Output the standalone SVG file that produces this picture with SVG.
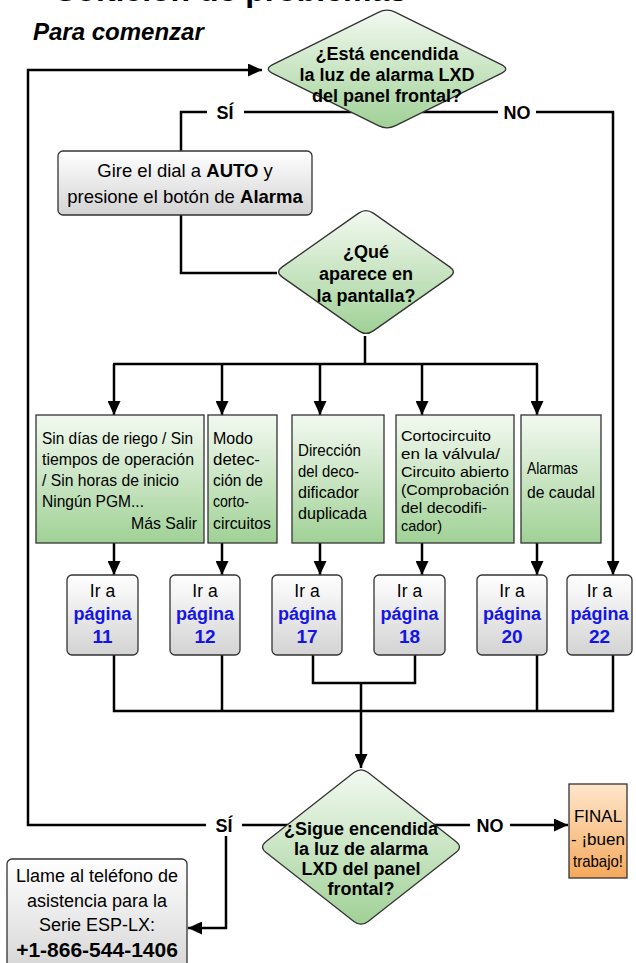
<svg xmlns="http://www.w3.org/2000/svg" width="636" height="963" viewBox="0 0 636 963">
<defs>
<linearGradient id="gGreen" x1="0" y1="0" x2="0" y2="1"><stop offset="0" stop-color="#f3f9f1"/><stop offset="1" stop-color="#a0d196"/></linearGradient>
<linearGradient id="gGray" x1="0" y1="0" x2="0" y2="1"><stop offset="0" stop-color="#ffffff"/><stop offset="1" stop-color="#d3d3d3"/></linearGradient>
<linearGradient id="gOrange" x1="0" y1="0" x2="0" y2="1"><stop offset="0" stop-color="#fee6cc"/><stop offset="1" stop-color="#f5a95c"/></linearGradient>
<marker id="arr" markerUnits="userSpaceOnUse" markerWidth="15" markerHeight="13" refX="14" refY="6.5" orient="auto"><path d="M0,0 L14,6.5 L0,13 Z" fill="#000"/></marker>
<style>
.ln{fill:none;stroke:#000;stroke-width:2.5}
.ar{fill:none;stroke:#000;stroke-width:2.5;marker-end:url(#arr)}
.dia{fill:url(#gGreen);stroke:#333;stroke-width:1.3}
.gbox{fill:url(#gGreen);stroke:#333;stroke-width:1.3}
.gray{fill:url(#gGray);stroke:#333;stroke-width:1.3}
.org{fill:url(#gOrange);stroke:#333;stroke-width:1.3}
text{font-family:"Liberation Sans",Arial,sans-serif;fill:#000}
.b{font-weight:bold}
.dt{font-weight:bold;font-size:18px;text-anchor:middle}
.lbl{font-weight:bold;font-size:18px;text-anchor:middle}
.bt{font-size:17px}
.bs{font-size:15.5px}
.pg{text-anchor:middle}
.ir{font-size:17.5px}
.blue{fill:#1414e6;font-weight:bold}
</style>
</defs>
<text x="55" y="0.5" style="font-weight:bold;font-size:32px">Solución de problemas</text>
<text x="33" y="40" style="font-weight:bold;font-style:italic;font-size:24px">Para comenzar</text>

<g id="connectors">
<path class="ar" d="M206,825 H28 V70 H262"/>
<path class="ln" d="M242,825 H300"/>
<path class="ar" d="M226,836 V928 H188"/>
<path class="ln" d="M430,825 H470"/>
<path class="ar" d="M510,825 H568"/>
<path class="ln" d="M207,112 H181 V151"/>
<path class="ln" d="M244,112 H352"/>
<path class="ln" d="M422,112 H498"/>
<path class="ar" d="M536,112 H613 V575"/>
<path class="ln" d="M181,215 V273 H277"/>
<path class="ln" d="M365,336 V364"/>
<path class="ln" d="M113,364 H538"/>
<path class="ar" d="M114,364 V415"/>
<path class="ar" d="M222,364 V415"/>
<path class="ar" d="M320,364 V415"/>
<path class="ar" d="M422,364 V415"/>
<path class="ar" d="M537,364 V415"/>
<path class="ar" d="M114,543 V575"/>
<path class="ar" d="M222,543 V575"/>
<path class="ar" d="M320,543 V575"/>
<path class="ar" d="M422,543 V575"/>
<path class="ar" d="M537,543 V575"/>
<path class="ln" d="M114,655 V711 H613 V655"/>
<path class="ln" d="M222,655 V711"/>
<path class="ln" d="M537,655 V711"/>
<path class="ln" d="M313,655 V683 H415 V655"/>
<path class="ar" d="M361,683 V768"/>
</g>

<g id="q1">
<path class="dia" d="M395.6,12.3 L501.4,64.7 Q510,69 501.4,73.3 L395.6,125.7 Q387,130 378.4,125.7 L272.6,73.3 Q264,69 272.6,64.7 L378.4,12.3 Q387,8 395.6,12.3 Z"/>
<text class="dt" x="387" y="60">¿Está encendida</text>
<text class="dt" x="387" y="81">la luz de alarma LXD</text>
<text class="dt" x="387" y="102">del panel frontal?</text>
</g>
<g id="lbl-si1"><text class="lbl" x="225" y="119">SÍ</text></g>
<g id="lbl-no1"><text class="lbl" x="517" y="119">NO</text></g>

<g id="gire">
<rect class="gray" x="58" y="151" width="254" height="64" rx="5"/>
<text x="185" y="177" style="font-size:18.5px;text-anchor:middle">Gire el dial a <tspan class="b">AUTO</tspan> y</text>
<text x="185" y="203" style="font-size:18.5px;text-anchor:middle">presione el botón de <tspan class="b">Alarma</tspan></text>
</g>

<g id="q2">
<path class="dia" d="M373.3,213.1 L449.7,266.9 Q457,272 449.7,277.1 L373.3,330.9 Q366,336 358.7,330.9 L282.3,277.1 Q275,272 282.3,266.9 L358.7,213.1 Q366,208 373.3,213.1 Z"/>
<text class="dt" x="366" y="258">¿Qué</text>
<text class="dt" x="366" y="280">aparece en</text>
<text class="dt" x="366" y="302">la pantalla?</text>
</g>

<g id="c1">
<rect class="gbox" x="36" y="415" width="168" height="128"/>
<text class="bt" x="42" y="444" textLength="151" lengthAdjust="spacingAndGlyphs">Sin días de riego / Sin</text>
<text class="bt" x="42" y="465" textLength="152" lengthAdjust="spacingAndGlyphs">tiempos de operación</text>
<text class="bt" x="42" y="486" textLength="137" lengthAdjust="spacingAndGlyphs">/ Sin horas de inicio</text>
<text class="bt" x="42" y="507" textLength="102" lengthAdjust="spacingAndGlyphs">Ningún PGM...</text>
<text class="bt" x="131" y="529" textLength="66" lengthAdjust="spacingAndGlyphs">Más  Salir</text>
</g>
<g id="c2">
<rect class="gbox" x="208" y="415" width="69" height="128"/>
<text class="bt" x="213" y="444" textLength="40" lengthAdjust="spacingAndGlyphs">Modo</text>
<text class="bt" x="213" y="465" textLength="47" lengthAdjust="spacingAndGlyphs">detec-</text>
<text class="bt" x="213" y="486" textLength="50" lengthAdjust="spacingAndGlyphs">ción de</text>
<text class="bt" x="213" y="507" textLength="36" lengthAdjust="spacingAndGlyphs">corto-</text>
<text class="bt" x="213" y="529" textLength="58" lengthAdjust="spacingAndGlyphs">circuitos</text>
</g>
<g id="c3">
<rect class="gbox" x="292" y="415" width="92" height="128"/>
<text class="bt" x="298" y="456" textLength="63" lengthAdjust="spacingAndGlyphs">Dirección</text>
<text class="bt" x="298" y="477" textLength="61" lengthAdjust="spacingAndGlyphs">del deco-</text>
<text class="bt" x="298" y="498" textLength="61" lengthAdjust="spacingAndGlyphs">dificador</text>
<text class="bt" x="298" y="519" textLength="69" lengthAdjust="spacingAndGlyphs">duplicada</text>
</g>
<g id="c4">
<rect class="gbox" x="396" y="415" width="118" height="128"/>
<text class="bs" x="401" y="441" textLength="90" lengthAdjust="spacingAndGlyphs">Cortocircuito</text>
<text class="bs" x="401" y="459" textLength="99" lengthAdjust="spacingAndGlyphs">en la válvula/</text>
<text class="bs" x="401" y="477" textLength="108" lengthAdjust="spacingAndGlyphs">Circuito abierto</text>
<text class="bs" x="401" y="495" textLength="108" lengthAdjust="spacingAndGlyphs">(Comprobación</text>
<text class="bs" x="401" y="513" textLength="86" lengthAdjust="spacingAndGlyphs">del decodifi-</text>
<text class="bs" x="401" y="531" textLength="41" lengthAdjust="spacingAndGlyphs">cador)</text>
</g>
<g id="c5">
<rect class="gbox" x="521" y="415" width="80" height="128"/>
<text class="bt" x="527" y="474" textLength="51" lengthAdjust="spacingAndGlyphs">Alarmas</text>
<text class="bt" x="527" y="498" textLength="68" lengthAdjust="spacingAndGlyphs">de caudal</text>
</g>

<g id="p11">
<rect class="gray" x="67" y="575" width="71" height="80" rx="5"/>
<text class="pg ir" x="102.5" y="597">Ir a</text>
<text class="pg blue" x="102.5" y="620" style="font-size:18px">página</text>
<text class="pg blue" x="102.5" y="643" style="font-size:19px">11</text>
</g>
<g id="p12">
<rect class="gray" x="170" y="575" width="70" height="80" rx="5"/>
<text class="pg ir" x="205" y="597">Ir a</text>
<text class="pg blue" x="205" y="620" style="font-size:18px">página</text>
<text class="pg blue" x="205" y="643" style="font-size:19px">12</text>
</g>
<g id="p17">
<rect class="gray" x="272" y="575" width="70" height="80" rx="5"/>
<text class="pg ir" x="307" y="597">Ir a</text>
<text class="pg blue" x="307" y="620" style="font-size:18px">página</text>
<text class="pg blue" x="307" y="643" style="font-size:19px">17</text>
</g>
<g id="p18">
<rect class="gray" x="374" y="575" width="71" height="80" rx="5"/>
<text class="pg ir" x="409.5" y="597">Ir a</text>
<text class="pg blue" x="409.5" y="620" style="font-size:18px">página</text>
<text class="pg blue" x="409.5" y="643" style="font-size:19px">18</text>
</g>
<g id="p20">
<rect class="gray" x="477" y="575" width="70" height="80" rx="5"/>
<text class="pg ir" x="512" y="597">Ir a</text>
<text class="pg blue" x="512" y="620" style="font-size:18px">página</text>
<text class="pg blue" x="512" y="643" style="font-size:19px">20</text>
</g>
<g id="p22">
<rect class="gray" x="567" y="575" width="65" height="80" rx="5"/>
<text class="pg ir" x="599.5" y="597">Ir a</text>
<text class="pg blue" x="599.5" y="620" style="font-size:18px">página</text>
<text class="pg blue" x="599.5" y="643" style="font-size:19px">22</text>
</g>

<g id="q3">
<path class="dia" d="M368.1,772.6 L455.9,841.4 Q463,847 455.9,852.6 L368.1,921.4 Q361,927 353.9,921.4 L266.1,852.6 Q259,847 266.1,841.4 L353.9,772.6 Q361,767 368.1,772.6 Z"/>
<text class="dt" x="361" y="835">¿Sigue encendida</text>
<text class="dt" x="361" y="855">la luz de alarma</text>
<text class="dt" x="361" y="875">LXD del panel</text>
<text class="dt" x="361" y="895">frontal?</text>
</g>
<g id="lbl-si2"><text class="lbl" x="224" y="832">SÍ</text></g>
<g id="lbl-no2"><text class="lbl" x="490" y="832">NO</text></g>

<g id="final">
<rect class="org" x="569" y="784" width="58" height="94"/>
<text x="598" y="822" style="font-size:17px;text-anchor:middle">FINAL</text>
<text x="598" y="845" style="font-size:17px;text-anchor:middle">- ¡buen</text>
<text x="598" y="867" style="font-size:17px;text-anchor:middle" textLength="50" lengthAdjust="spacingAndGlyphs">trabajo!</text>
</g>

<g id="phone">
<rect class="gray" x="7" y="859" width="180" height="120" rx="5"/>
<text x="97" y="882" style="font-size:18px;text-anchor:middle">Llame al teléfono de</text>
<text x="97" y="907" style="font-size:18px;text-anchor:middle">asistencia para la</text>
<text x="97" y="931" style="font-size:18px;text-anchor:middle">Serie ESP-LX:</text>
<text x="97" y="957" class="b" style="font-size:21px;text-anchor:middle">+1-866-544-1406</text>
</g>
</svg>
